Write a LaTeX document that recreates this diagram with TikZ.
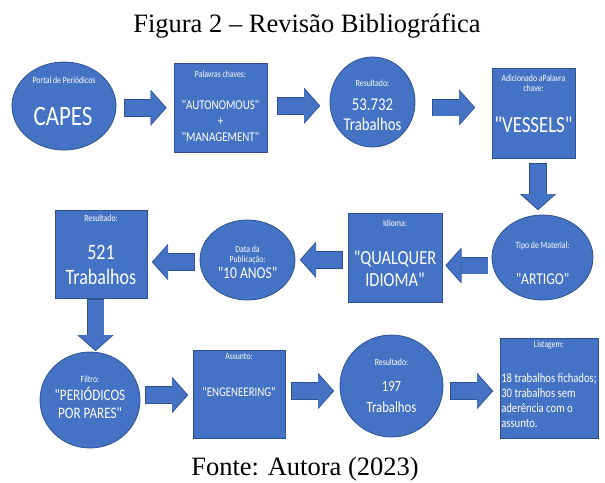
\documentclass[tikz,border=0pt]{standalone}
\usepackage{fontspec}
\setmainfont{Liberation Serif}
\newfontfamily\cardfont[FakeStretch=0.82,Ligatures=TeXOff]{Carlito}
\usetikzlibrary{calc,positioning,shapes.geometric,arrows.meta}
\tikzset{>=stealth}
\definecolor{officeblue}{HTML}{4472C4}
\definecolor{officeedge}{HTML}{2F528F}
\newcommand\cardtxt[2]{\cardfont\fontsize{#1}{#2}\selectfont}
\tikzset{
  card/.style={draw=officeedge, line width=0.8pt, fill=officeblue, inner sep=0pt},
  boxcard/.style={card, rectangle},
  ellcard/.style={card, ellipse},
  head/.style={text=white, inner sep=0pt, align=center, font=\cardtxt{9.5}{10.5}},
  body/.style={text=white, inner sep=0pt, align=center},
  caption/.style={anchor=base, inner sep=0pt, font=\fontsize{26.5}{30}\selectfont},
  arrowedge/.style={draw=officeedge, line width=17.6pt, shorten <=-0.8pt, shorten >=-1.2pt,
    -{Triangle[width=36pt,length=16pt,line width=0pt]}},
  arrowbody/.style={draw=officeblue, line width=16pt,
    -{Triangle[width=34pt,length=15pt,line width=0pt]}}
}
\begin{document}
\begin{tikzpicture}[x=1pt, y=-1pt]
\useasboundingbox (0,0) rectangle (605,482);
\node[caption] (titulo) at (307,32) {Figura 2 – Revisão Bibliográfica};
\node[caption] (fonte) at (305,475) {Fonte: Autora (2023)};

% primeira linha
\node[ellcard, minimum width=104pt, minimum height=88pt] (capes) at (64,106) {};
\node[boxcard, minimum width=93pt, minimum height=89pt] (kw) at (220.5,107.5) {};
\node[ellcard, minimum width=85pt, minimum height=90pt] (res1) at (372.5,102) {};
\node[boxcard, minimum width=83pt, minimum height=90pt] (vessels) at (533.5,113) {};
% segunda linha
\node[ellcard, minimum width=101pt, minimum height=85pt] (tipo) at (542.5,257.5) {};
\node[boxcard, minimum width=94pt, minimum height=89pt] (idioma) at (395,257.5) {};
\node[ellcard, minimum width=95pt, minimum height=80pt] (data) at (247.5,260) {};
\node[boxcard, minimum width=92pt, minimum height=88pt] (res2) at (101,254) {};
% terceira linha
\node[ellcard, minimum width=100pt, minimum height=96pt] (filtro) at (90,400) {};
\node[boxcard, minimum width=92pt, minimum height=88pt] (assunto) at (239,394) {};
\node[ellcard, minimum width=103pt, minimum height=102pt] (res3) at (391.5,386) {};
\node[boxcard, minimum width=98pt, minimum height=100pt] (list) at (549,388) {};

% textos
\node[head] (capes-h) at ($(capes)+(0,-26)$) {Portal de Periódicos};
\node[body, font=\cardtxt{28}{30}] (capes-m) at ($(capes)+(-1,11)$) {CAPES};
\node[head] (kw-h) at ($(kw)+(0,-33.5)$) {Palavras chaves:};
\node[body, font=\cardtxt{13.4}{16}] (kw-m) at ($(kw)+(0,13.5)$) {"AUTONOMOUS"\\+\\"MANAGEMENT"};
\node[head] (res1-h) at ($(res1)+(0,-19)$) {Resultado:};
\node[body, font=\cardtxt{18}{20}] (res1-m) at ($(res1)+(0,13)$) {53.732\\Trabalhos};
\node[head] (vessels-h) at ($(vessels)+(0,-30)$) {Adicionado aPalavra\\chave:};
\node[body, font=\cardtxt{23}{26}] (vessels-m) at ($(vessels)+(0,12)$) {"VESSELS"};
\node[head] (tipo-h) at ($(tipo)+(0,-12)$) {Tipo de Material:};
\node[body, font=\cardtxt{16.5}{19}] (tipo-m) at ($(tipo)+(0,21)$) {"ARTIGO"};
\node[head] (idioma-h) at ($(idioma)+(0,-34.5)$) {Idioma:};
\node[body, font=\cardtxt{20}{22}] (idioma-m) at ($(idioma)+(0,11.5)$) {"QUALQUER\\IDIOMA"};
\node[head] (data-h) at ($(data)+(0,-5)$) {Data da\\Publicação:};
\node[body, font=\cardtxt{16.5}{19}] (data-m) at ($(data)+(0,13)$) {"10 ANOS"};
\node[head] (res2-h) at ($(res2)+(0,-36)$) {Resultado:};
\node[body, font=\cardtxt{22}{25}] (res2-m) at ($(res2)+(0,10.5)$) {521\\Trabalhos};
\node[head] (filtro-h) at ($(filtro)+(0,-21)$) {Filtro:};
\node[body, font=\cardtxt{16}{18}] (filtro-m) at ($(filtro)+(0,3)$) {"PERIÓDICOS\\POR PARES"};
\node[head] (assunto-h) at ($(assunto)+(0,-38)$) {Assunto:};
\node[body, font=\cardtxt{13.2}{15}] (assunto-m) at ($(assunto)+(0,-2)$) {"ENGENEERING"};
\node[head] (res3-h) at ($(res3)+(0,-24)$) {Resultado:};
\node[body, font=\cardtxt{15.5}{21}] (res3-m) at ($(res3)+(0,11.5)$) {197\\Trabalhos};
\node[head] (list-h) at ($(list)+(0,-43)$) {Listagem:};
\node[body, align=left, font=\cardtxt{13}{15.2}] (list-m) at ($(list)+(0,12.5)$) {18 trabalhos fichados;\\30 trabalhos sem\\aderência com o\\assunto.};

% setas
\foreach \s/\t/\dy in {capes.east/kw.west/1, kw.east/res1.west/1, res1.east/vessels.west/0,
  tipo.west/idioma.east/8, idioma.west/data.east/1, data.west/res2.east/5,
  filtro.east/assunto.west/-2, assunto.east/res3.west/1, res3.east/list.west/4}{
  \coordinate (m) at ($(\s)!.5!(\t)+(0,\dy)$);
  \coordinate (tail) at ($(m)!20.5pt!(m -| \s)$);
  \coordinate (tip) at ($(m)!20.5pt!(m -| \t)$);
  \draw[arrowedge] (tail) -- (tip);
  \draw[arrowbody] (tail) -- (tip);
}
\foreach \s/\t/\h in {vessels.south/tipo.north/22.5pt, res2.south/filtro.north/25pt}{
  \coordinate (m) at ($(\s)!.5!(\t)$);
  \coordinate (tail) at ($(m)!\h!(m |- \s)$);
  \coordinate (tip) at ($(m)!\h!(m |- \t)$);
  \draw[arrowedge] (tail) -- (tip);
  \draw[arrowbody] (tail) -- (tip);
}
\end{tikzpicture}
\end{document}
